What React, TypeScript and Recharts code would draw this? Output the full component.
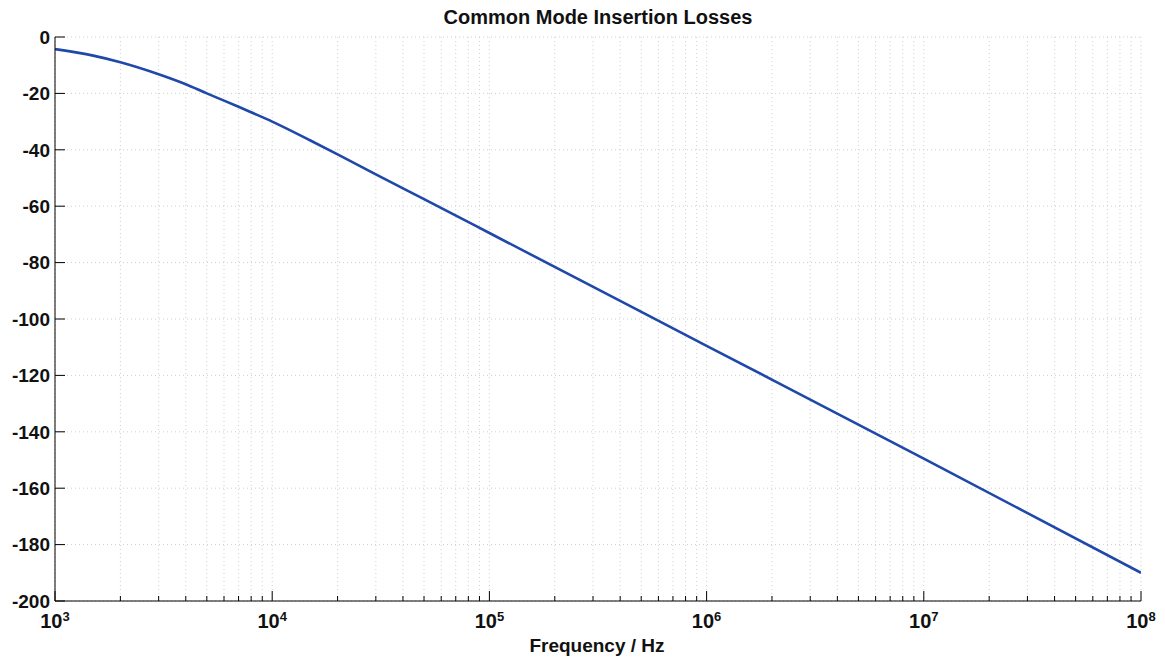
import React from 'react';
import { LineChart, Line, XAxis, YAxis, CartesianGrid, Label } from 'recharts';

const frequencies = [1000, 1500, 2000, 3000, 4000, 5000, 6000, 7000, 8000, 10000, 15000, 20000, 30000, 50000, 100000, 1000000, 10000000, 100000000];
const lossDb = [-4.3, -6.6, -8.95, -13.2, -16.75, -20.0, -22.55, -24.75, -26.7, -30.0, -36.7, -41.6, -48.7, -57.5, -69.5, -109.5, -149.5, -190.0];

const decadeTicks = [1e3, 1e4, 1e5, 1e6, 1e7, 1e8];
const minorMultipliers = [2, 3, 4, 5, 6, 7, 8, 9];
const xTicks: number[] = [];
decadeTicks.forEach((d, i) => {
  xTicks.push(d);
  if (i < decadeTicks.length - 1) minorMultipliers.forEach((m) => xTicks.push(d * m));
});
const yTicks = [-200, -180, -160, -140, -120, -100, -80, -60, -40, -20, 0];

const titleText = 'Common Mode Insertion Losses';
const xLabelText = 'Frequency / Hz';

const data = frequencies.map((f, i) => ({ f, db: lossDb[i] }));

const FONT = '"Liberation Sans", Arial, Helvetica, sans-serif';

const isDecade = (v: number) => Math.abs(Math.log10(v) - Math.round(Math.log10(v))) < 1e-9;

const BottomTick = (props: any) => {
  const { x, y, payload } = props;
  const v = payload.value;
  const major = isDecade(v);
  return (
    <g>
      <line x1={x} y1={y} x2={x} y2={y - (major ? 10 : 5)} stroke="#000" strokeWidth={1} />
      {major && (
        <text x={x} y={y + 27} textAnchor="middle" fontFamily={FONT} fontWeight="bold" fontSize={20} fill="#111">
          <tspan>10</tspan>
          <tspan dy={-7} fontSize={13}>{Math.round(Math.log10(v))}</tspan>
        </text>
      )}
    </g>
  );
};

const TopTick = (props: any) => {
  const { x, y, payload } = props;
  const major = isDecade(payload.value);
  return <line x1={x} y1={y} x2={x} y2={y + (major ? 10 : 5)} stroke="#000" strokeWidth={1} />;
};

const LeftTick = (props: any) => {
  const { x, y, payload } = props;
  return (
    <g>
      <line x1={x} y1={y} x2={x + 10} y2={y} stroke="#000" strokeWidth={1} />
      <text x={x - 5} y={y} dy="0.36em" textAnchor="end" fontFamily={FONT} fontWeight="bold" fontSize={19} fill="#111">
        {payload.value}
      </text>
    </g>
  );
};

const RightTick = (props: any) => {
  const { x, y } = props;
  return <line x1={x} y1={y} x2={x - 10} y2={y} stroke="#000" strokeWidth={1} />;
};

const AxisTexts = () => (
  <g>
    <text x={598} y={24} textAnchor="middle" fontFamily={FONT} fontWeight="bold" fontSize={20} fill="#111">
      {titleText}
    </text>
    <text x={597} y={652} textAnchor="middle" fontFamily={FONT} fontWeight="bold" fontSize={19} fill="#111">
      {xLabelText}
    </text>
  </g>
);

export default function App() {
  return (
    <div style={{ position: 'absolute', left: 0, top: 0, width: 1165, height: 659, background: '#fff' }}>
      <LineChart width={1165} height={659} data={data} margin={{ top: 37, right: 24, bottom: 0, left: 0 }}>
        <CartesianGrid stroke="#cfcfcf" strokeDasharray="1 3" strokeWidth={1} />
        <XAxis
          dataKey="f"
          type="number"
          scale="log"
          domain={[1e3, 1e8]}
          ticks={xTicks}
          interval={0}
          height={58}
          tickSize={0}
          tickMargin={0}
          axisLine={{ stroke: '#000', strokeWidth: 1 }}
          tickLine={false}
          tick={<BottomTick />}
          allowDataOverflow
        >
          <Label content={() => <AxisTexts />} />
        </XAxis>
        <XAxis
          xAxisId="top"
          orientation="top"
          dataKey="f"
          type="number"
          scale="log"
          domain={[1e3, 1e8]}
          ticks={xTicks}
          interval={0}
          height={0}
          tickSize={0}
          tickMargin={0}
          axisLine={{ stroke: '#000', strokeWidth: 1 }}
          tickLine={false}
          tick={<TopTick />}
          allowDataOverflow
        />
        <YAxis
          type="number"
          domain={[-200, 0]}
          ticks={yTicks}
          interval={0}
          width={55}
          tickSize={0}
          tickMargin={0}
          axisLine={{ stroke: '#000', strokeWidth: 1 }}
          tickLine={false}
          tick={<LeftTick />}
          allowDataOverflow
        />
        <YAxis
          yAxisId="right"
          orientation="right"
          type="number"
          domain={[-200, 0]}
          ticks={yTicks}
          interval={0}
          width={0}
          tickSize={0}
          tickMargin={0}
          axisLine={{ stroke: '#000', strokeWidth: 1 }}
          tickLine={false}
          tick={<RightTick />}
          allowDataOverflow
        />
        <Line
          type="monotone"
          dataKey="db"
          stroke="#1f48aa"
          strokeWidth={2.6}
          dot={false}
          isAnimationActive={false}
        />
      </LineChart>
    </div>
  );
}
